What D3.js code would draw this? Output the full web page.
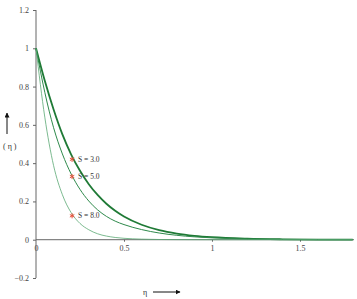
<!DOCTYPE html>
<html lang="en">
  <head>
    <meta charset="UTF-8" />
    <title>Profiles for S</title>
    <script src="https://d3js.org/d3.v7.min.js"></script>
    <style>
      body { margin: 0; background: #fff; }
      text { font-family: "Liberation Serif", "DejaVu Serif", serif; fill: #333; }
      .tick text { font-size: 8px; fill: #444; }
      .domain, .tick line { stroke: #666; }
    </style>
  </head>
  <body>
    <svg id="chart" width="357" height="299"></svg>
    <script>
      // data
      const eta = [0, 0.05, 0.1, 0.15, 0.2, 0.25, 0.3, 0.35, 0.4, 0.45, 0.5, 0.6, 0.7, 0.8, 0.9, 1.0, 1.2, 1.4, 1.6, 1.8];
      const s3 = [1, 0.83, 0.68, 0.55, 0.445, 0.36, 0.29, 0.234, 0.188, 0.151, 0.121, 0.078, 0.05, 0.032, 0.0205, 0.013, 0.0054, 0.0022, 0.0009, 0.0004];
      const s5 = [1, 0.77, 0.585, 0.448, 0.343, 0.263, 0.202, 0.156, 0.122, 0.097, 0.079, 0.053, 0.035, 0.023, 0.015, 0.0097, 0.004, 0.0016, 0.0006, 0.0002];
      const s8 = [1, 0.64, 0.387, 0.235, 0.141, 0.085, 0.052, 0.031, 0.019, 0.0118, 0.0074, 0.003, 0.0012, 0.0005, 0.0002, 0, 0, 0, 0, 0];
      const seriesLabels = ["S = 3.0", "S = 5.0", "S = 8.0"];
      const markEta = 0.205;
      const markVals = [0.42, 0.33, 0.125];
      const xTicks = [0, 0.5, 1, 1.5];
      const yTicks = [-0.2, 0, 0.2, 0.4, 0.6, 0.8, 1, 1.2];

      const svg = d3.select("#chart");

      const x = d3.scaleLinear().domain([0, 1.807]).range([36, 354]);
      const y = d3.scaleLinear().domain([-0.2, 1.2]).range([278, 10]);

      // y axis
      svg.append("g")
        .attr("transform", `translate(${x(0)},0)`)
        .call(d3.axisLeft(y).tickValues(yTicks).tickSize(3).tickPadding(4).tickFormat(d3.format("")))
        .call(g => g.select(".domain").attr("d", `M0,${y(1.2)}V${y(-0.2)}`));

      // x axis along zero
      const xAxis = svg.append("g")
        .attr("transform", `translate(0,${y(0)})`)
        .call(d3.axisBottom(x).tickValues(xTicks).tickSize(2).tickPadding(4).tickFormat(d3.format("")))
        .call(g => g.select(".domain").attr("d", `M${x(0)},0H354`));
      xAxis.selectAll(".tick").filter(d => d === 0).select("line").remove();

      // curves
      const line = d3.line()
        .x((d, i) => x(eta[i]))
        .y(d => y(d))
        .curve(d3.curveMonotoneX);

      const styles = [
        { color: "#1f7a36", width: 1.8 },
        { color: "#2f8a4c", width: 1 },
        { color: "#5aa874", width: 0.8 }
      ];
      [s3, s5, s8].forEach((vals, i) => {
        svg.append("path")
          .attr("d", line(vals))
          .attr("fill", "none")
          .attr("stroke", styles[i].color)
          .attr("stroke-width", styles[i].width);
      });

      // markers and labels
      const star = d3.symbol().type(d3.symbolAsterisk).size(18);
      markVals.forEach((v, i) => {
        svg.append("path")
          .attr("transform", `translate(${x(markEta)},${y(v)})`)
          .attr("d", star())
          .attr("fill", "none")
          .attr("stroke", "#e8503a")
          .attr("stroke-width", 1);
        svg.append("text")
          .attr("x", x(markEta) + 6)
          .attr("y", y(v))
          .attr("dy", "0.35em")
          .attr("font-size", 7.5)
          .text(seriesLabels[i]);
      });

      // axis titles with arrows
      svg.append("defs").append("marker")
        .attr("id", "arrow")
        .attr("viewBox", "0 0 10 10")
        .attr("refX", 9).attr("refY", 5)
        .attr("markerWidth", 5).attr("markerHeight", 5)
        .attr("orient", "auto")
        .append("path").attr("d", "M0,0L10,5L0,10z").attr("fill", "#111");

      svg.append("text").attr("x", 143).attr("y", 295).attr("font-size", 8).text("η");
      svg.append("line")
        .attr("x1", 153).attr("y1", 292).attr("x2", 180).attr("y2", 292)
        .attr("stroke", "#111").attr("stroke-width", 1)
        .attr("marker-end", "url(#arrow)");

      svg.append("line")
        .attr("x1", 7).attr("y1", 134).attr("x2", 7).attr("y2", 113)
        .attr("stroke", "#111").attr("stroke-width", 1)
        .attr("marker-end", "url(#arrow)");
      svg.append("text").attr("x", 3).attr("y", 149).attr("font-size", 8).text("( η )");
    </script>
  </body>
</html>
